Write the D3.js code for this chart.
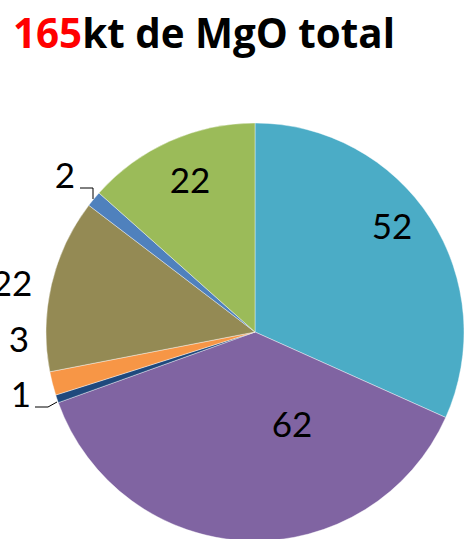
<!DOCTYPE html>
<html><head><meta charset="utf-8">
<script src="https://cdn.jsdelivr.net/npm/d3@7"></script>
<style>body{margin:0;background:#fff;overflow:hidden}svg{display:block}</style>
</head><body>
<svg id="c" width="464" height="539"></svg>
<script>
const categories = ["A","B","C","D","E","F","G"];
const values = [52, 62, 1, 3, 22, 2, 22];
const colors = ["#4BACC6","#8064A2","#1F497D","#F79646","#948A54","#4F81BD","#9BBB59"];
const titleNum = "165";
const titleRest = "kt de MgO total";

const svg = d3.select("#c");
const cx = 255, cy = 332, R = 209;
const font = "Lato, 'Open Sans', sans-serif";

// title
const t = svg.append("text").attr("x", 13).attr("y", 48)
  .attr("font-family", "'Open Sans', Lato, sans-serif").attr("font-weight", "bold").attr("font-size", 41);
t.append("tspan").attr("fill", "#FF0000").text(titleNum);
t.append("tspan").attr("fill", "#000").text(titleRest);
t.attr("textLength", 382).attr("lengthAdjust", "spacingAndGlyphs");

const pie = d3.pie().sort(null).value(d => d)(values);
const arc = d3.arc().innerRadius(0).outerRadius(R);
const g = svg.append("g").attr("transform", `translate(${cx},${cy})`);
g.selectAll("path").data(pie).join("path")
  .attr("d", arc).attr("fill", (d,i) => colors[i])
  .attr("stroke", "#fff").attr("stroke-width", 0.4);

// label placement (relative to pie center), Excel "best fit" style
const labelPos = [[137,-93],[37,105],[-234,75],[-236,20],[-243,-36],[-190,-144],[-65,-139]];
g.selectAll("text.lbl").data(pie).join("text").attr("class","lbl")
  .attr("x", (d,i) => labelPos[i][0]).attr("y", (d,i) => labelPos[i][1])
  .attr("text-anchor", "middle").attr("font-family", font).attr("font-size", 35)
  .attr("fill", "#000").text(d => d.data);

// leader lines for small slices
const leaders = [
  {i:5, pts:[[80-cx,188-cy],[93-cx,188-cy],[93-cx,199-cy]]},
  {i:2, pts:[[35-cx,407-cy],[48-cx,407-cy],[57-cx,402-cy]]}
];
g.selectAll("path.ld").data(leaders).join("path").attr("class","ld")
  .attr("d", d => d3.line()(d.pts)).attr("fill","none").attr("stroke","#000").attr("stroke-width",1);
</script>
</body></html>
